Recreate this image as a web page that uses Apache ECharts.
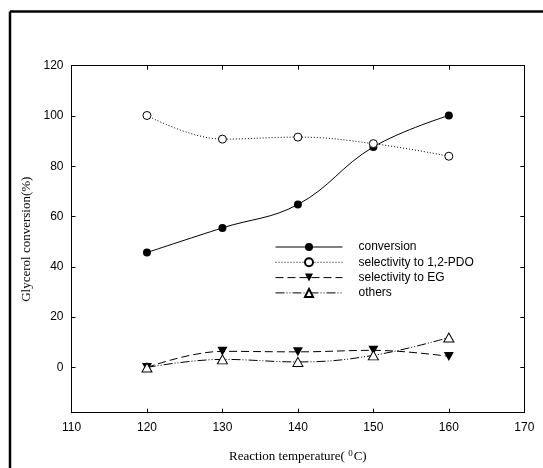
<!DOCTYPE html>
<html>
<head>
<meta charset="utf-8">
<script src="https://cdn.jsdelivr.net/npm/echarts@6/dist/echarts.min.js"></script>
<style>
html,body{margin:0;padding:0;background:#fff;}
#chart{width:543px;height:468px;}
</style>
</head>
<body>
<div id="chart"></div>
<script>
var temperatures = [120, 130, 140, 150, 160];
var conversion = [45.7, 55.5, 64.8, 87.7, 100.2];
var selectivityPDO = [100.2, 90.8, 91.6, 89.0, 84.0];
var selectivityEG = [0, 6.4, 6.2, 6.8, 4.4];
var others = [0, 3.2, 2.2, 4.8, 11.9];
var seriesNames = ['conversion', 'selectivity to 1,2-PDO', 'selectivity to EG', 'others'];
var yTickValues = [0, 20, 40, 60, 80, 100];
var yLabelValues = [0, 20, 40, 60, 80, 100, 120];

function pairs(vals) {
  return temperatures.map(function (t, i) { return [t, vals[i]]; });
}

var chart = echarts.init(document.getElementById('chart'), null, {renderer: 'canvas'});
var sansFont = 'Liberation Sans, Arial, sans-serif';
var serifFont = 'Liberation Serif, Times New Roman, serif';

var option = {
  backgroundColor: '#fff',
  animation: false,
  grid: {left: 71.5, right: 18.7, top: 65.7, bottom: 55.3, containLabel: false},
  legend: {
    orient: 'vertical',
    left: 270,
    top: 235,
    itemWidth: 67,
    itemHeight: 10,
    itemGap: 1.3,
    data: seriesNames,
    lineStyle: {width: 1},
    textStyle: {fontFamily: sansFont, fontSize: 12, color: '#000', padding: [0, 0, 0, 11], lineHeight: 14}
  },
  xAxis: [{
    type: 'value',
    min: 110, max: 170, interval: 10,
    position: 'bottom',
    name: '{a|Reaction temperature( }{s|0}{a|C)}',
    nameLocation: 'middle',
    nameGap: 36,
    nameTextStyle: {
      rich: {
        a: {fontFamily: serifFont, fontSize: 13, color: '#000'},
        s: {fontFamily: serifFont, fontSize: 9, color: '#000', verticalAlign: 'top', padding: [0, 1, 6, 0]}
      }
    },
    axisLine: {show: true, onZero: false, lineStyle: {color: '#000', width: 1}},
    axisTick: {show: true, inside: true, length: 4, lineStyle: {color: '#000'}},
    axisLabel: {fontFamily: sansFont, fontSize: 12, color: '#000', margin: 9},
    splitLine: {show: false}
  }, {
    type: 'value',
    min: 110, max: 170, interval: 10,
    position: 'top',
    axisLine: {show: true, onZero: false, lineStyle: {color: '#000', width: 1}},
    axisTick: {show: true, inside: true, length: 4, lineStyle: {color: '#000'}},
    axisLabel: {show: false},
    splitLine: {show: false}
  }],
  yAxis: [{
    type: 'value',
    min: -18, max: 120,
    position: 'left',
    name: 'Glycerol conversion(%)',
    nameLocation: 'middle',
    nameGap: 38,
    nameTextStyle: {fontFamily: serifFont, fontSize: 13, color: '#000'},
    axisLine: {show: true, onZero: false, lineStyle: {color: '#000', width: 1}},
    axisTick: {show: true, inside: true, length: 4, customValues: yTickValues, lineStyle: {color: '#000'}},
    axisLabel: {fontFamily: sansFont, fontSize: 12, color: '#000', margin: 8, customValues: yLabelValues},
    splitLine: {show: false}
  }, {
    type: 'value',
    min: -18, max: 120,
    position: 'right',
    axisLine: {show: true, onZero: false, lineStyle: {color: '#000', width: 1}},
    axisTick: {show: true, inside: true, length: 4, customValues: yTickValues, lineStyle: {color: '#000'}},
    axisLabel: {show: false, customValues: yTickValues},
    splitLine: {show: false}
  }],
  graphic: [
    {type: 'line', shape: {x1: 10, y1: 11.5, x2: 543, y2: 11.5}, style: {stroke: '#000', lineWidth: 2.5}, silent: true},
    {type: 'line', shape: {x1: 10, y1: 11.5, x2: 10, y2: 468}, style: {stroke: '#000', lineWidth: 2.5}, silent: true}
  ],
  series: [{
    name: seriesNames[0],
    type: 'line',
    data: pairs(conversion),
    smooth: 0.4,
    symbol: 'circle',
    symbolSize: 8,
    itemStyle: {color: '#000'},
    lineStyle: {color: '#000', width: 1, type: 'solid'}
  }, {
    name: seriesNames[1],
    type: 'line',
    data: pairs(selectivityPDO),
    smooth: 0.4,
    symbol: 'circle',
    symbolSize: 8,
    itemStyle: {color: '#fff', borderColor: '#000', borderWidth: 1},
    lineStyle: {color: '#000', width: 1, type: [1, 2]}
  }, {
    name: seriesNames[2],
    type: 'line',
    data: pairs(selectivityEG),
    smooth: 0.4,
    symbol: 'triangle',
    symbolRotate: 180,
    symbolSize: [10, 9],
    itemStyle: {color: '#000'},
    lineStyle: {color: '#000', width: 1, type: [8, 4]}
  }, {
    name: seriesNames[3],
    type: 'line',
    data: pairs(others),
    smooth: 0.4,
    symbol: 'triangle',
    symbolSize: [10, 9],
    itemStyle: {color: '#fff', borderColor: '#000', borderWidth: 1},
    lineStyle: {color: '#000', width: 1, type: [9, 2, 1, 2, 1, 2]}
  }]
};
chart.setOption(option);
</script>
</body>
</html>
